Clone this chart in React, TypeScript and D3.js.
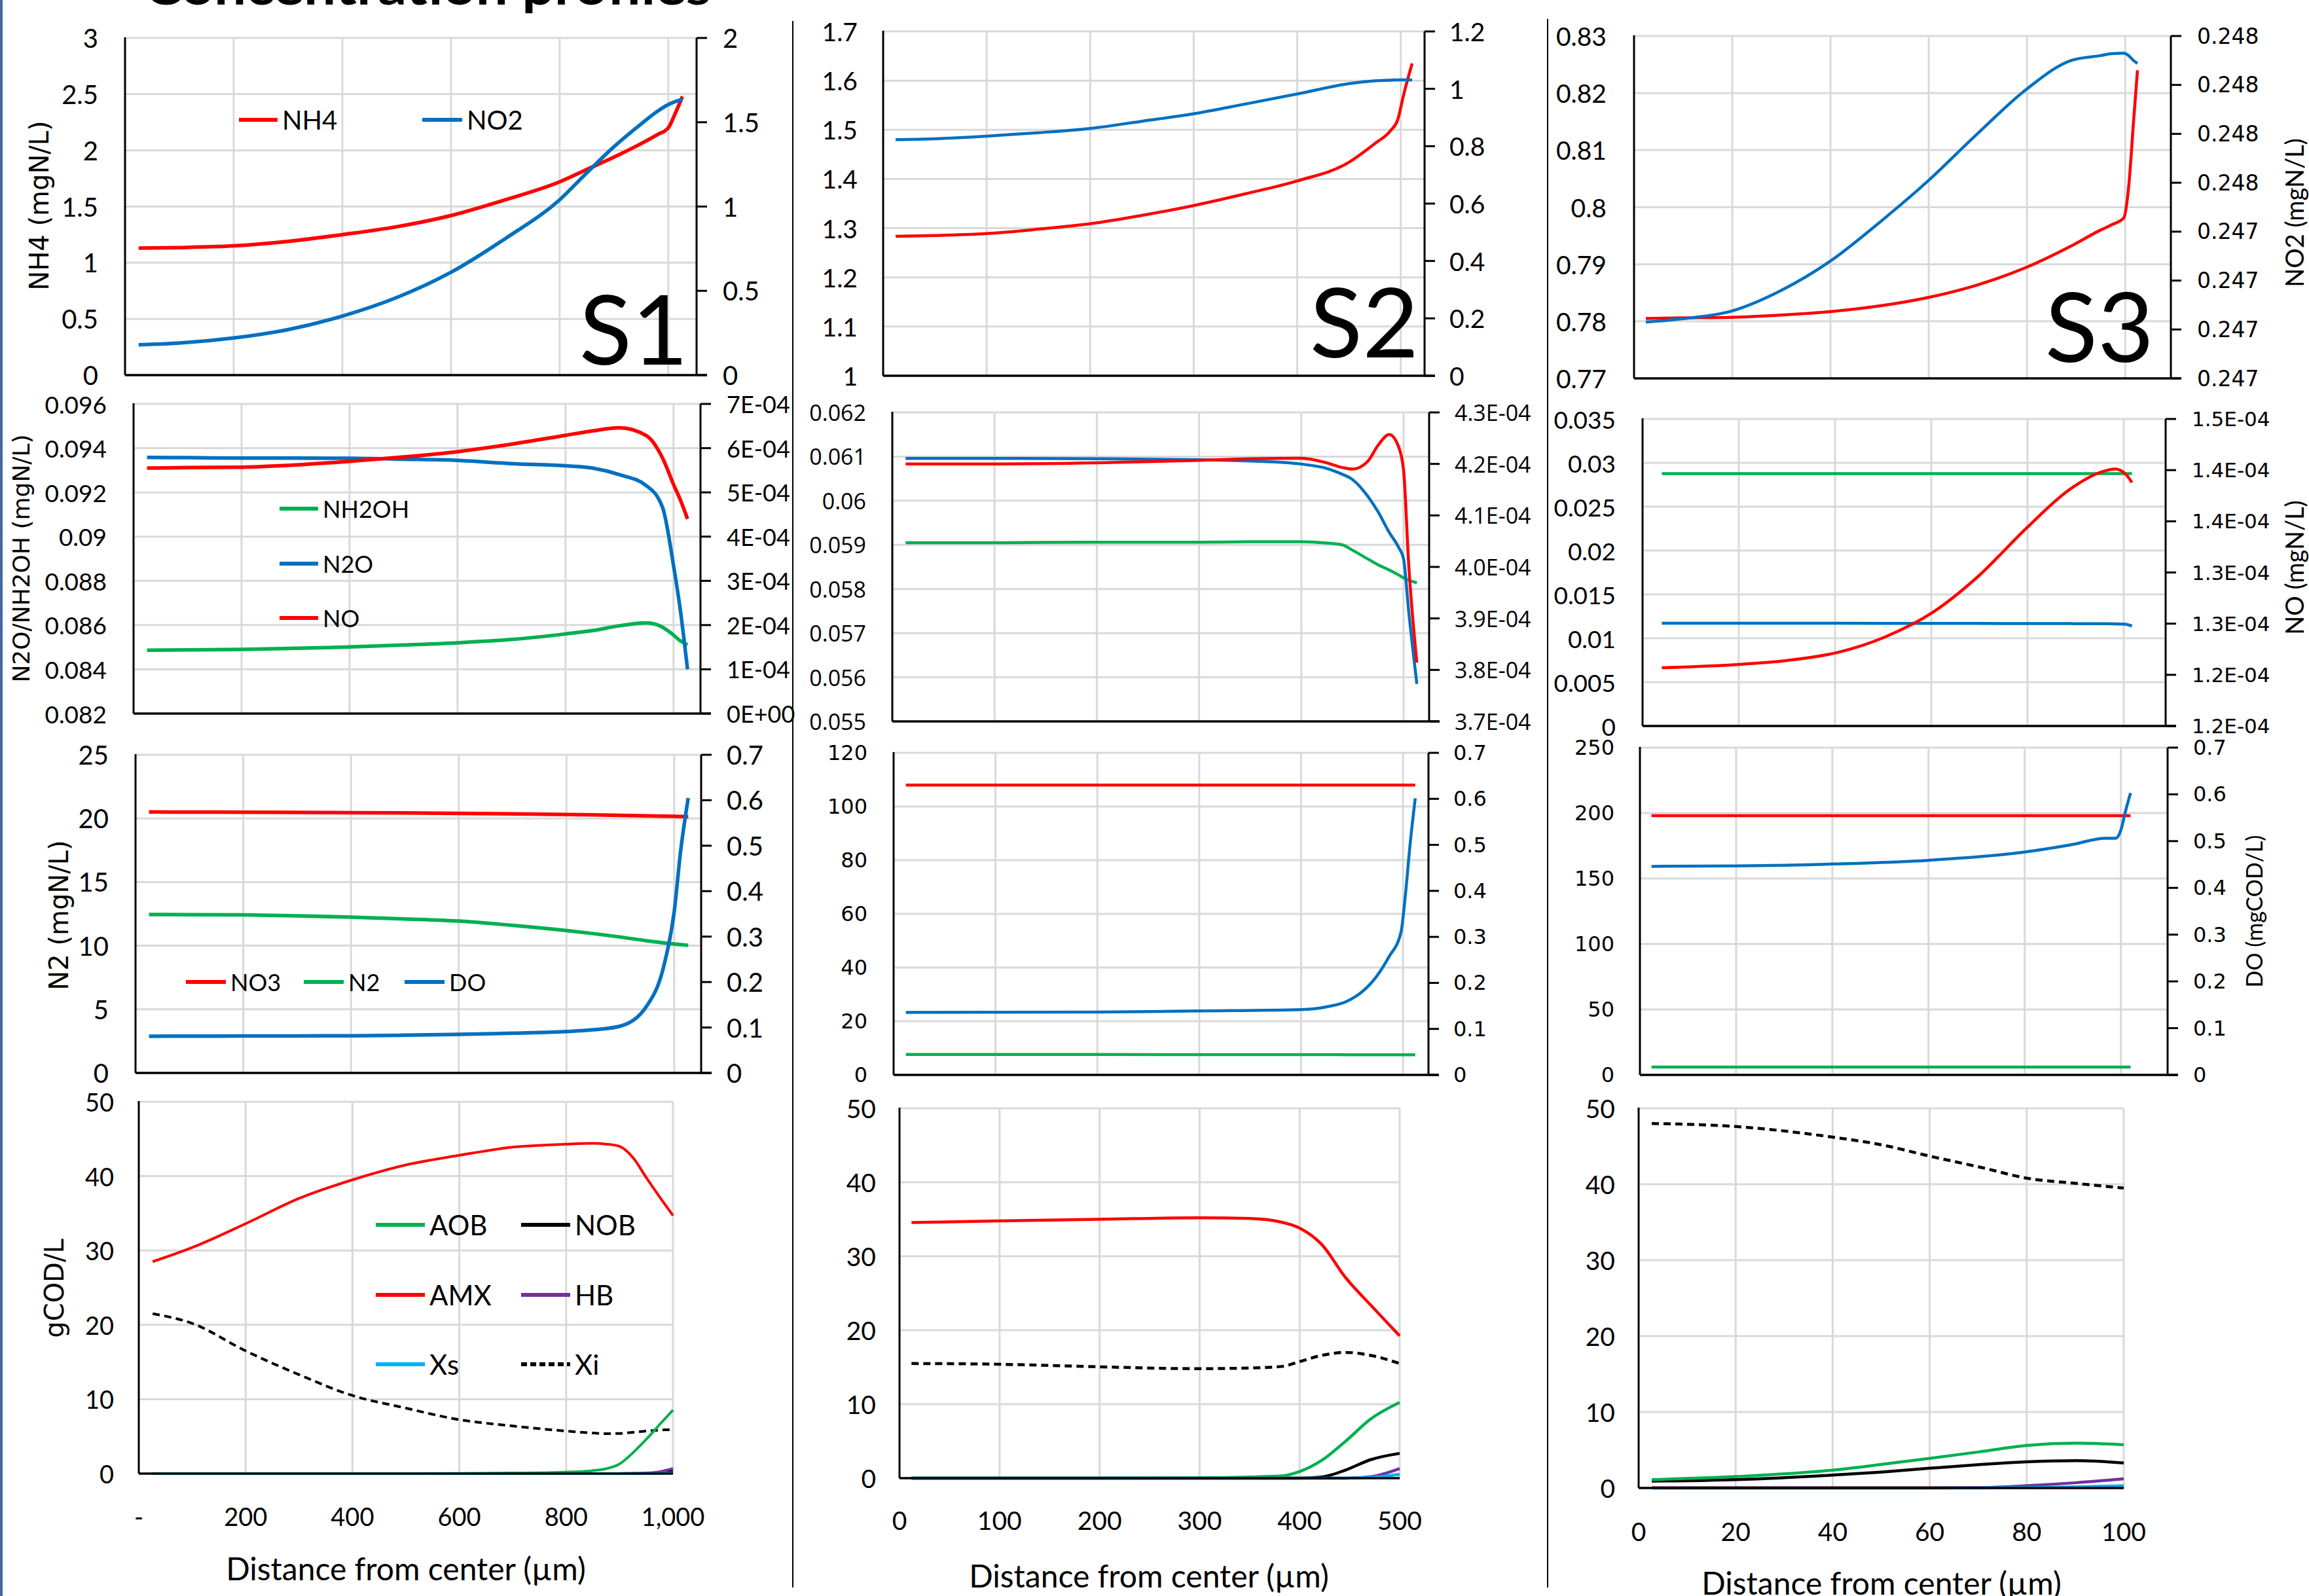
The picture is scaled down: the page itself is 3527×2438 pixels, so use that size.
import React from 'react';
import * as d3 from 'd3';

// ---------- S1 (rows 1-3 share x) ----------
const s1X = [25, 100, 200, 300, 400, 500, 600, 700, 800, 850, 900, 950, 980, 1000, 1012, 1026];
const s1NH4 = [1.13, 1.135, 1.15, 1.19, 1.25, 1.32, 1.42, 1.56, 1.72, 1.83, 1.94, 2.06, 2.14, 2.2, 2.32, 2.48];
const s1NO2 = [0.18, 0.19, 0.22, 0.27, 0.35, 0.46, 0.61, 0.81, 1.04, 1.2, 1.355, 1.49, 1.565, 1.605, 1.622, 1.635];
const s1N2O = [0.09358, 0.09357, 0.09355, 0.09355, 0.09354, 0.0935, 0.09345, 0.0933, 0.0932, 0.0931, 0.0928, 0.0923, 0.0913, 0.0887, 0.0868, 0.084];
const s1NO = [5.55e-4, 5.56e-4, 5.57e-4, 5.62e-4, 5.7e-4, 5.8e-4, 5.92e-4, 6.09e-4, 6.29e-4, 6.39e-4, 6.46e-4, 6.28e-4, 5.77e-4, 5.18e-4, 4.85e-4, 4.4e-4];
const s1NH2OH = [0.08486, 0.08488, 0.0849, 0.08495, 0.08501, 0.0851, 0.0852, 0.08535, 0.0856, 0.08575, 0.08597, 0.0861, 0.0859, 0.08555, 0.0853, 0.08511];
const s1NO3 = [20.51, 20.5, 20.49, 20.47, 20.45, 20.43, 20.4, 20.36, 20.31, 20.28, 20.24, 20.2, 20.18, 20.16, 20.15, 20.14];
const s1N2 = [12.45, 12.44, 12.42, 12.35, 12.24, 12.1, 11.93, 11.6, 11.19, 10.95, 10.68, 10.38, 10.22, 10.13, 10.08, 10.03];
const s1DO = [0.0807, 0.081, 0.0812, 0.0815, 0.0817, 0.083, 0.085, 0.0875, 0.091, 0.095, 0.103, 0.149, 0.232, 0.355, 0.489, 0.605];
// S1 biomass
const s1bX = [26, 100, 200, 300, 400, 500, 600, 700, 800, 850, 875, 900, 925, 950, 975, 1000];
const s1AMX = [28.5, 30.4, 33.6, 37.0, 39.5, 41.5, 42.8, 43.9, 44.3, 44.4, 44.3, 44.0, 42.5, 39.8, 37.2, 34.7];
const s1Xi = [21.5, 20.2, 16.5, 13.3, 10.5, 8.8, 7.25, 6.4, 5.72, 5.45, 5.37, 5.4, 5.55, 5.72, 5.85, 5.92];
const s1AOB = [0, 0, 0, 0, 0, 0, 0.02, 0.08, 0.2, 0.4, 0.66, 1.3, 2.8, 4.6, 6.6, 8.55];
const s1NOB = [0, 0, 0, 0, 0, 0, 0, 0, 0, 0, 0, 0, 0.02, 0.05, 0.12, 0.3];
const s1HB = [0, 0, 0, 0, 0, 0, 0, 0, 0, 0, 0, 0.01, 0.03, 0.08, 0.25, 0.7];
const s1Xs = [0, 0, 0, 0, 0, 0, 0, 0, 0, 0, 0, 0, 0, 0.02, 0.05, 0.1];

// ---------- S2 ----------
const s2aX = [12, 50, 100, 150, 200, 250, 300, 350, 400, 450, 475, 490, 497, 503, 511];
const s2NH4 = [1.2835, 1.285, 1.289, 1.298, 1.309, 1.326, 1.346, 1.37, 1.396, 1.434, 1.472, 1.498, 1.52, 1.573, 1.635];
const s2NO2 = [0.823, 0.826, 0.835, 0.847, 0.862, 0.887, 0.913, 0.947, 0.982, 1.018, 1.028, 1.03, 1.031, 1.031, 1.031];
const s2bX = [13, 100, 200, 300, 350, 400, 425, 440, 450, 465, 475, 486, 495, 500, 505, 513];
const s2N2O = [0.06096, 0.06096, 0.06095, 0.06093, 0.0609, 0.06083, 0.06073, 0.0606, 0.06048, 0.0601, 0.05975, 0.05928, 0.05895, 0.05868, 0.0575, 0.05585];
const s2NO = [4.2e-4, 4.2e-4, 4.202e-4, 4.207e-4, 4.21e-4, 4.211e-4, 4.202e-4, 4.193e-4, 4.19e-4, 4.205e-4, 4.236e-4, 4.257e-4, 4.234e-4, 4.188e-4, 4.006e-4, 3.814e-4];
const s2NH2OH = [0.05905, 0.05905, 0.05906, 0.05906, 0.05907, 0.05907, 0.05904, 0.059, 0.05888, 0.05868, 0.05855, 0.05843, 0.05832, 0.05825, 0.0582, 0.05814];
const s2cX = [12, 100, 200, 300, 400, 425, 445, 460, 474, 486, 498, 502, 507, 512];
const s2NO3 = [108, 108, 108, 108, 108, 108, 108, 108, 108, 108, 108, 108, 108, 108];
const s2N2 = [7.63, 7.62, 7.6, 7.58, 7.55, 7.54, 7.53, 7.52, 7.52, 7.51, 7.5, 7.5, 7.5, 7.5];
const s2DO = [0.136, 0.1363, 0.1366, 0.139, 0.1419, 0.148, 0.16, 0.181, 0.214, 0.256, 0.31, 0.383, 0.502, 0.601];
const s2dX = [12, 100, 200, 300, 350, 382, 400, 422, 446, 471, 500];
const s2AMX = [34.56, 34.78, 35.0, 35.2, 35.1, 34.6, 33.8, 31.6, 27.1, 23.4, 19.24];
const s2Xi = [15.5, 15.4, 15.05, 14.8, 14.9, 15.1, 15.75, 16.6, 17.0, 16.6, 15.5];
const s2AOB = [0, 0, 0, 0.05, 0.15, 0.3, 0.9, 2.4, 5.0, 8.0, 10.25];
const s2NOB = [0, 0, 0, 0, 0, 0, 0, 0.15, 1.1, 2.5, 3.35];
const s2HB = [0, 0, 0, 0, 0, 0, 0, 0, 0, 0.2, 1.3];
const s2Xs = [0, 0, 0, 0, 0, 0, 0, 0, 0, 0.1, 0.5];

// ---------- S3 ----------
const s3aX = [2.4, 10, 20, 30, 40, 50, 60, 70, 80, 89, 95, 97.2, 99.7, 100.7, 101.7, 102.5];
const s3NH4 = [0.7805, 0.7806, 0.7807, 0.7811, 0.7817, 0.7827, 0.7842, 0.7864, 0.7895, 0.7932, 0.796, 0.7969, 0.7981, 0.8035, 0.815, 0.824];
const s3NO2 = [0.247215, 0.247222, 0.247238, 0.24728, 0.24734, 0.247419, 0.247505, 0.247601, 0.247692, 0.24775, 0.24776, 0.247764, 0.247765, 0.24776, 0.24775, 0.247744];
const s3bX = [4, 21, 30, 40.7, 50.4, 60.3, 69.7, 79.7, 89, 95.2, 98.2, 100.2, 101.7];
const s3NH2OH = [0.02877, 0.02877, 0.02877, 0.02877, 0.02877, 0.02877, 0.02877, 0.02877, 0.02877, 0.02877, 0.02877, 0.02877, 0.02877];
const s3N2O = [0.01172, 0.01172, 0.01171, 0.01171, 0.0117, 0.0117, 0.01169, 0.01168, 0.01167, 0.01166, 0.01165, 0.0116, 0.0114];
const s3NO = [1.2569e-4, 1.2605e-4, 1.264e-4, 1.272e-4, 1.287e-4, 1.311e-4, 1.346e-4, 1.393e-4, 1.432e-4, 1.448e-4, 1.451e-4, 1.447e-4, 1.438e-4];
const s3cX = [2.4, 20, 40, 60, 80, 89.6, 96.8, 98.9, 100, 101, 102];
const s3NO3 = [198, 198, 198, 198, 198, 198, 198, 198, 198, 198, 198];
const s3N2 = [6, 6, 6, 6, 6, 6, 6, 6, 6, 6, 6];
const s3DO = [0.446, 0.447, 0.451, 0.459, 0.4766, 0.492, 0.506, 0.506, 0.524, 0.566, 0.603];
const s3dX = [2.7, 20, 40, 50, 60, 70.7, 80, 90.3, 100];
const s3Xi = [48.0, 47.6, 46.2, 45.2, 43.7, 42.2, 40.8, 40.1, 39.5];
const s3AOB = [1.1, 1.5, 2.35, 3.1, 3.9, 4.8, 5.6, 5.9, 5.7];
const s3NOB = [0.9, 1.1, 1.7, 2.1, 2.6, 3.1, 3.45, 3.6, 3.3];
const s3HB = [0, 0, 0, 0, 0, 0.05, 0.3, 0.7, 1.2];
const s3AMX = [0.05, 0.05, 0.05, 0.05, 0.05, 0.05, 0.05, 0.05, 0.05];
const s3Xs = [0, 0, 0, 0, 0, 0, 0.05, 0.15, 0.3];

// ---------- ticks ----------
const t0to3 = [0, 0.5, 1, 1.5, 2, 2.5, 3];
const t0to2 = [0, 0.5, 1, 1.5, 2];
const tN2Oa = [0.082, 0.084, 0.086, 0.088, 0.09, 0.092, 0.094, 0.096];
const tN2OaLbl = ['0.082', '0.084', '0.086', '0.088', '0.09', '0.092', '0.094', '0.096'];
const tNOa = [0, 1e-4, 2e-4, 3e-4, 4e-4, 5e-4, 6e-4, 7e-4];
const tNOaLbl = ['0E+00', '1E-04', '2E-04', '3E-04', '4E-04', '5E-04', '6E-04', '7E-04'];
const t0to25 = [0, 5, 10, 15, 20, 25];
const t0to07 = [0, 0.1, 0.2, 0.3, 0.4, 0.5, 0.6, 0.7];
const t0to50 = [0, 10, 20, 30, 40, 50];
const tNH4b = [1, 1.1, 1.2, 1.3, 1.4, 1.5, 1.6, 1.7];
const tNO2b = [0, 0.2, 0.4, 0.6, 0.8, 1, 1.2];
const tN2Ob = [0.055, 0.056, 0.057, 0.058, 0.059, 0.06, 0.061, 0.062];
const tN2ObLbl = ['0.055', '0.056', '0.057', '0.058', '0.059', '0.06', '0.061', '0.062'];
const tNOb = [3.7e-4, 3.8e-4, 3.9e-4, 4.0e-4, 4.1e-4, 4.2e-4, 4.3e-4];
const tNObLbl = ['3.7E-04', '3.8E-04', '3.9E-04', '4.0E-04', '4.1E-04', '4.2E-04', '4.3E-04'];
const t0to120 = [0, 20, 40, 60, 80, 100, 120];
const tNH4c = [0.77, 0.78, 0.79, 0.8, 0.81, 0.82, 0.83];
const tNH4cLbl = ['0.77', '0.78', '0.79', '0.8', '0.81', '0.82', '0.83'];
const tNO2c = [0.2471, 0.2472, 0.2473, 0.2474, 0.2475, 0.2476, 0.2477, 0.2478];
const tNO2cLbl = ['0.247', '0.247', '0.247', '0.247', '0.248', '0.248', '0.248', '0.248'];
const tN2Oc = [0, 0.005, 0.01, 0.015, 0.02, 0.025, 0.03, 0.035];
const tNOc = [1.2e-4, 1.25e-4, 1.3e-4, 1.35e-4, 1.4e-4, 1.45e-4, 1.5e-4];
const tNOcLbl = ['1.2E-04', '1.2E-04', '1.3E-04', '1.3E-04', '1.4E-04', '1.4E-04', '1.5E-04'];
const t0to250 = [0, 50, 100, 150, 200, 250];
const x1Grid = [200, 400, 600, 800, 1000];
const x1Lbl = ['-', '200', '400', '600', '800', '1,000'];
const x2Grid = [100, 200, 300, 400, 500];
const x2Lbl = ['0', '100', '200', '300', '400', '500'];
const x3Grid = [20, 40, 60, 80, 100];
const x3Lbl = ['0', '20', '40', '60', '80', '100'];

const RED = '#FF0000';
const BLUE = '#0070C0';
const GREEN = '#00B050';
const BLACK = '#000000';
const PURPLE = '#7030A0';
const CYAN = '#00B0F0';
const GRID = '#D9D9D9';
const CAL = 'Lato, "Open Sans", sans-serif';
const WIDE = '"DejaVu Sans", Verdana, sans-serif';
const SEG = '"Open Sans", Lato, sans-serif';

const W = 3527;
const H = 2438;

type Series = { x: number[]; y: number[]; color: string; right?: boolean; dash?: string };
type PanelCfg = {
  box: [number, number, number, number];
  xMax: number;
  xGrid: number[];
  yL: [number, number];
  yLT: number[];
  yLLbl?: string[];
  yR?: [number, number];
  yRT?: number[];
  yRLbl?: string[];
  series: Series[];
  lw: number;
  lFont: string;
  lSize: number;
  lX: number;
  rFont?: string;
  rSize?: number;
  rX?: number;
  xLbl?: string[];
  xLblY?: number;
  xLblSize?: number;
};

const panels: PanelCfg[] = [
  {
    box: [191, 1064, 58, 573], xMax: 1052, xGrid: x1Grid,
    yL: [0, 3], yLT: t0to3, yR: [0, 2], yRT: t0to2,
    series: [
      { x: s1X, y: s1NH4, color: RED },
      { x: s1X, y: s1NO2, color: BLUE, right: true },
    ],
    lw: 5.5, lFont: CAL, lSize: 40, lX: 150, rFont: CAL, rSize: 40, rX: 1104,
  },
  {
    box: [204, 1070, 617, 1090], xMax: 1050, xGrid: x1Grid,
    yL: [0.082, 0.096], yLT: tN2Oa, yLLbl: tN2OaLbl, yR: [0, 7e-4], yRT: tNOa, yRLbl: tNOaLbl,
    series: [
      { x: s1X, y: s1NH2OH, color: GREEN },
      { x: s1X, y: s1N2O, color: BLUE },
      { x: s1X, y: s1NO, color: RED, right: true },
    ],
    lw: 5.5, lFont: CAL, lSize: 37, lX: 163, rFont: CAL, rSize: 36, rX: 1110,
  },
  {
    box: [207, 1071, 1153, 1639], xMax: 1050, xGrid: x1Grid,
    yL: [0, 25], yLT: t0to25, yR: [0, 0.7], yRT: t0to07,
    series: [
      { x: s1X, y: s1NO3, color: RED },
      { x: s1X, y: s1N2, color: GREEN },
      { x: s1X, y: s1DO, color: BLUE, right: true },
    ],
    lw: 5.5, lFont: CAL, lSize: 40, lX: 166, rFont: CAL, rSize: 40, rX: 1110,
  },
  {
    box: [212, 1028, 1683, 2251], xMax: 1000, xGrid: x1Grid,
    yL: [0, 50], yLT: t0to50,
    series: [
      { x: s1bX, y: s1Xi, color: BLACK, dash: '11,7' },
      { x: s1bX, y: s1AMX, color: RED },
      { x: s1bX, y: s1NOB, color: BLACK },
      { x: s1bX, y: s1HB, color: PURPLE },
      { x: s1bX, y: s1AOB, color: GREEN },
      { x: s1bX, y: s1Xs, color: CYAN },
    ],
    lw: 4, lFont: CAL, lSize: 38, lX: 174, xLbl: x1Lbl, xLblY: 2316, xLblSize: 38,
  },
  {
    box: [1349, 2176, 48, 574], xMax: 523, xGrid: x2Grid,
    yL: [1, 1.7], yLT: tNH4b, yR: [0, 1.2], yRT: tNO2b,
    series: [
      { x: s2aX, y: s2NH4, color: RED },
      { x: s2aX, y: s2NO2, color: BLUE, right: true },
    ],
    lw: 4.5, lFont: CAL, lSize: 39, lX: 1310, rFont: CAL, rSize: 39, rX: 2214,
  },
  {
    box: [1363, 2183, 630, 1102], xMax: 525, xGrid: x2Grid,
    yL: [0.055, 0.062], yLT: tN2Ob, yLLbl: tN2ObLbl, yR: [3.7e-4, 4.3e-4], yRT: tNOb, yRLbl: tNObLbl,
    series: [
      { x: s2bX, y: s2NH2OH, color: GREEN },
      { x: s2bX, y: s2N2O, color: BLUE },
      { x: s2bX, y: s2NO, color: RED, right: true },
    ],
    lw: 4.5, lFont: SEG, lSize: 34, lX: 1323, rFont: SEG, rSize: 34, rX: 2222,
  },
  {
    box: [1365, 2182, 1150, 1642], xMax: 525, xGrid: x2Grid,
    yL: [0, 120], yLT: t0to120, yR: [0, 0.7], yRT: t0to07,
    series: [
      { x: s2cX, y: s2NO3, color: RED },
      { x: s2cX, y: s2N2, color: GREEN },
      { x: s2cX, y: s2DO, color: BLUE, right: true },
    ],
    lw: 4.5, lFont: WIDE, lSize: 32, lX: 1325, rFont: WIDE, rSize: 32, rX: 2220,
  },
  {
    box: [1374, 2138, 1693, 2258], xMax: 500, xGrid: x2Grid,
    yL: [0, 50], yLT: t0to50,
    series: [
      { x: s2dX, y: s2Xi, color: BLACK, dash: '11,7' },
      { x: s2dX, y: s2AMX, color: RED },
      { x: s2dX, y: s2NOB, color: BLACK },
      { x: s2dX, y: s2HB, color: PURPLE },
      { x: s2dX, y: s2AOB, color: GREEN },
      { x: s2dX, y: s2Xs, color: CYAN },
    ],
    lw: 4.5, lFont: CAL, lSize: 39, lX: 1338, xLbl: x2Lbl, xLblY: 2322, xLblSize: 39,
  },
  {
    box: [2496, 3316, 55, 578], xMax: 109.3, xGrid: x3Grid,
    yL: [0.77, 0.83], yLT: tNH4c, yLLbl: tNH4cLbl, yR: [0.2471, 0.2478], yRT: tNO2c, yRLbl: tNO2cLbl,
    series: [
      { x: s3aX, y: s3NH4, color: RED },
      { x: s3aX, y: s3NO2, color: BLUE, right: true },
    ],
    lw: 4.5, lFont: CAL, lSize: 39, lX: 2454, rFont: WIDE, rSize: 33, rX: 3356,
  },
  {
    box: [2509, 3308, 640, 1109], xMax: 108.7, xGrid: x3Grid,
    yL: [0, 0.035], yLT: tN2Oc, yR: [1.2e-4, 1.5e-4], yRT: tNOc, yRLbl: tNOcLbl,
    series: [
      { x: s3bX, y: s3NH2OH, color: GREEN },
      { x: s3bX, y: s3N2O, color: BLUE },
      { x: s3bX, y: s3NO, color: RED, right: true },
    ],
    lw: 4.5, lFont: CAL, lSize: 37, lX: 2468, rFont: WIDE, rSize: 31, rX: 3348,
  },
  {
    box: [2505, 3311, 1142, 1642], xMax: 109.7, xGrid: x3Grid,
    yL: [0, 250], yLT: t0to250, yR: [0, 0.7], yRT: t0to07,
    series: [
      { x: s3cX, y: s3NO3, color: RED },
      { x: s3cX, y: s3N2, color: GREEN },
      { x: s3cX, y: s3DO, color: BLUE, right: true },
    ],
    lw: 4.5, lFont: WIDE, lSize: 32, lX: 2466, rFont: WIDE, rSize: 32, rX: 3350,
  },
  {
    box: [2503, 3244, 1693, 2273], xMax: 100, xGrid: x3Grid,
    yL: [0, 50], yLT: t0to50,
    series: [
      { x: s3dX, y: s3Xi, color: BLACK, dash: '11,7' },
      { x: s3dX, y: s3AMX, color: RED },
      { x: s3dX, y: s3NOB, color: BLACK },
      { x: s3dX, y: s3HB, color: PURPLE },
      { x: s3dX, y: s3AOB, color: GREEN },
      { x: s3dX, y: s3Xs, color: CYAN },
    ],
    lw: 4.5, lFont: CAL, lSize: 39, lX: 2467, xLbl: x3Lbl, xLblY: 2339, xLblSize: 39,
  },
];

type LegendItem = { label: string; color: string; x1: number; x2: number; y: number; dash?: string };
const legends: { size: number; items: LegendItem[] }[] = [
  { size: 40, items: [
    { label: 'NH4', color: RED, x1: 365, x2: 424, y: 183 },
    { label: 'NO2', color: BLUE, x1: 645, x2: 706, y: 183 },
  ] },
  { size: 36, items: [
    { label: 'NH2OH', color: GREEN, x1: 427, x2: 486, y: 777 },
    { label: 'N2O', color: BLUE, x1: 427, x2: 486, y: 861 },
    { label: 'NO', color: RED, x1: 427, x2: 486, y: 944 },
  ] },
  { size: 36, items: [
    { label: 'NO3', color: RED, x1: 284, x2: 345, y: 1500 },
    { label: 'N2', color: GREEN, x1: 464, x2: 525, y: 1500 },
    { label: 'DO', color: BLUE, x1: 618, x2: 679, y: 1500 },
  ] },
  { size: 42, items: [
    { label: 'AOB', color: GREEN, x1: 574, x2: 649, y: 1871 },
    { label: 'NOB', color: BLACK, x1: 796, x2: 871, y: 1871 },
    { label: 'AMX', color: RED, x1: 574, x2: 649, y: 1978 },
    { label: 'HB', color: PURPLE, x1: 796, x2: 871, y: 1978 },
    { label: 'Xs', color: CYAN, x1: 574, x2: 649, y: 2084 },
    { label: 'Xi', color: BLACK, x1: 796, x2: 871, y: 2084, dash: '9,5' },
  ] },
];

function Panel({ p }: { p: PanelCfg }) {
  const [l, r, t, b] = p.box;
  const x = d3.scaleLinear().domain([0, p.xMax]).range([l, r]);
  const yL = d3.scaleLinear().domain(p.yL).range([b, t]);
  const yR = p.yR ? d3.scaleLinear().domain(p.yR).range([b, t]) : yL;
  const fmt = (v: number) => String(+v.toFixed(6));
  return (
    <g>
      {p.xGrid.map((v) => (
        <line key={'vx' + v} x1={x(v)} x2={x(v)} y1={t} y2={b} stroke={GRID} strokeWidth={3} />
      ))}
      {p.yLT.slice(1).map((v) => (
        <line key={'hy' + v} x1={l} x2={r} y1={yL(v)} y2={yL(v)} stroke={GRID} strokeWidth={3} />
      ))}
      {p.series.map((s, i) => {
        const ys = s.right ? yR : yL;
        const line = d3
          .line<number>()
          .x((_, j) => x(s.x[j]))
          .y((d) => ys(d))
          .curve(d3.curveMonotoneX);
        return (
          <path
            key={i}
            d={line(s.y) || ''}
            fill="none"
            stroke={s.color}
            strokeWidth={p.lw}
            strokeDasharray={s.dash}
            strokeLinejoin="round"
          />
        );
      })}
      <line x1={l} x2={l} y1={t - 1} y2={b} stroke="#000" strokeWidth={3} />
      <line x1={l} x2={p.yR ? r + 16 : r} y1={b} y2={b} stroke="#000" strokeWidth={3.5} />
      {p.yR && <line x1={r} x2={r} y1={t} y2={b} stroke="#000" strokeWidth={3} />}
      {p.yR &&
        p.yRT!.map((v) => (
          <line key={'rt' + v} x1={r} x2={r + 16} y1={yR(v)} y2={yR(v)} stroke="#000" strokeWidth={3} />
        ))}
      {p.yLT.map((v, i) => (
        <text
          key={'ll' + v}
          x={p.lX}
          y={yL(v)}
          textAnchor="end"
          dominantBaseline="central"
          fontFamily={p.lFont}
          fontSize={p.lSize}
          fill="#000"
        >
          {p.yLLbl ? p.yLLbl[i] : fmt(v)}
        </text>
      ))}
      {p.yR &&
        p.yRT!.map((v, i) => (
          <text
            key={'rl' + v}
            x={p.rX}
            y={yR(v)}
            textAnchor="start"
            dominantBaseline="central"
            fontFamily={p.rFont}
            fontSize={p.rSize}
            fill="#000"
          >
            {p.yRLbl ? p.yRLbl[i] : fmt(v)}
          </text>
        ))}
      {p.xLbl &&
        [0, ...p.xGrid].map((v, i) => (
          <text
            key={'xl' + v}
            x={x(v)}
            y={p.xLblY}
            textAnchor="middle"
            dominantBaseline="central"
            fontFamily={p.lFont}
            fontSize={p.xLblSize}
            fill="#000"
          >
            {p.xLbl![i]}
          </text>
        ))}
    </g>
  );
}

function Legend({ size, items }: { size: number; items: LegendItem[] }) {
  return (
    <g>
      {items.map((it) => (
        <g key={it.label}>
          <line x1={it.x1} x2={it.x2} y1={it.y} y2={it.y} stroke={it.color} strokeWidth={6} strokeDasharray={it.dash} />
          <text x={it.x2 + 7} y={it.y} dominantBaseline="central" fontFamily={CAL} fontSize={size} fill="#000">
            {it.label}
          </text>
        </g>
      ))}
    </g>
  );
}

function VLabel({ x, y, size, font, children }: { x: number; y: number; size: number; font: string; children: string }) {
  return (
    <text
      transform={`translate(${x},${y}) rotate(-90)`}
      textAnchor="middle"
      dominantBaseline="central"
      fontFamily={font}
      fontSize={size}
      fill="#000"
    >
      {children}
    </text>
  );
}

export default function App() {
  return (
    <svg
      width={W}
      height={H}
      viewBox={`0 0 ${W} ${H}`}
      style={{ position: 'absolute', left: 0, top: 0, background: '#fff' }}
    >
      <rect width={W} height={H} fill="#fff" />
      <line x1={2} x2={2} y1={0} y2={H} stroke="#44679E" strokeWidth={4} />
      <line x1={1211} x2={1211} y1={32} y2={2425} stroke="#000" strokeWidth={2} />
      <line x1={2364} x2={2364} y1={29} y2={2425} stroke="#000" strokeWidth={2} />
      <text
        x={220}
        y={7}
        fontFamily={CAL}
        fontWeight="bold"
        fontSize={76}
        textLength={866}
        lengthAdjust="spacingAndGlyphs"
        fill="#000"
      >
        Concentration profiles
      </text>

      {panels.map((p, i) => (
        <Panel key={i} p={p} />
      ))}
      {legends.map((lg, i) => (
        <Legend key={i} size={lg.size} items={lg.items} />
      ))}

      <text x={1051} y={557} textAnchor="end" fontFamily={CAL} fontSize={148} fill="#000">S1</text>
      <text x={2167} y={546} textAnchor="end" fontFamily={CAL} fontSize={148} fill="#000">S2</text>
      <text x={3290} y={553} textAnchor="end" fontFamily={CAL} fontSize={148} fill="#000">S3</text>

      <VLabel x={60} y={314} size={40} font={WIDE}>NH4 (mgN/L)</VLabel>
      <VLabel x={32} y={853} size={36} font={WIDE}>N2O/NH2OH (mgN/L)</VLabel>
      <VLabel x={90} y={1398} size={40} font={WIDE}>N2 (mgN/L)</VLabel>
      <VLabel x={83} y={1968} size={40} font={WIDE}>gCOD/L</VLabel>
      <VLabel x={3504} y={325} size={38} font={CAL}>NO2 (mgN/L)</VLabel>
      <VLabel x={3504} y={867} size={38} font={CAL}>NO (mgN/L)</VLabel>
      <VLabel x={3442} y={1392} size={34} font={CAL}>DO (mgCOD/L)</VLabel>

      <text x={620} y={2414} textAnchor="middle" fontFamily={CAL} fontSize={48} fill="#000">
        Distance from center (µm)
      </text>
      <text x={1755} y={2425} textAnchor="middle" fontFamily={CAL} fontSize={48} fill="#000">
        Distance from center (µm)
      </text>
      <text x={2874} y={2436} textAnchor="middle" fontFamily={CAL} fontSize={48} fill="#000">
        Distance from center (µm)
      </text>
    </svg>
  );
}
